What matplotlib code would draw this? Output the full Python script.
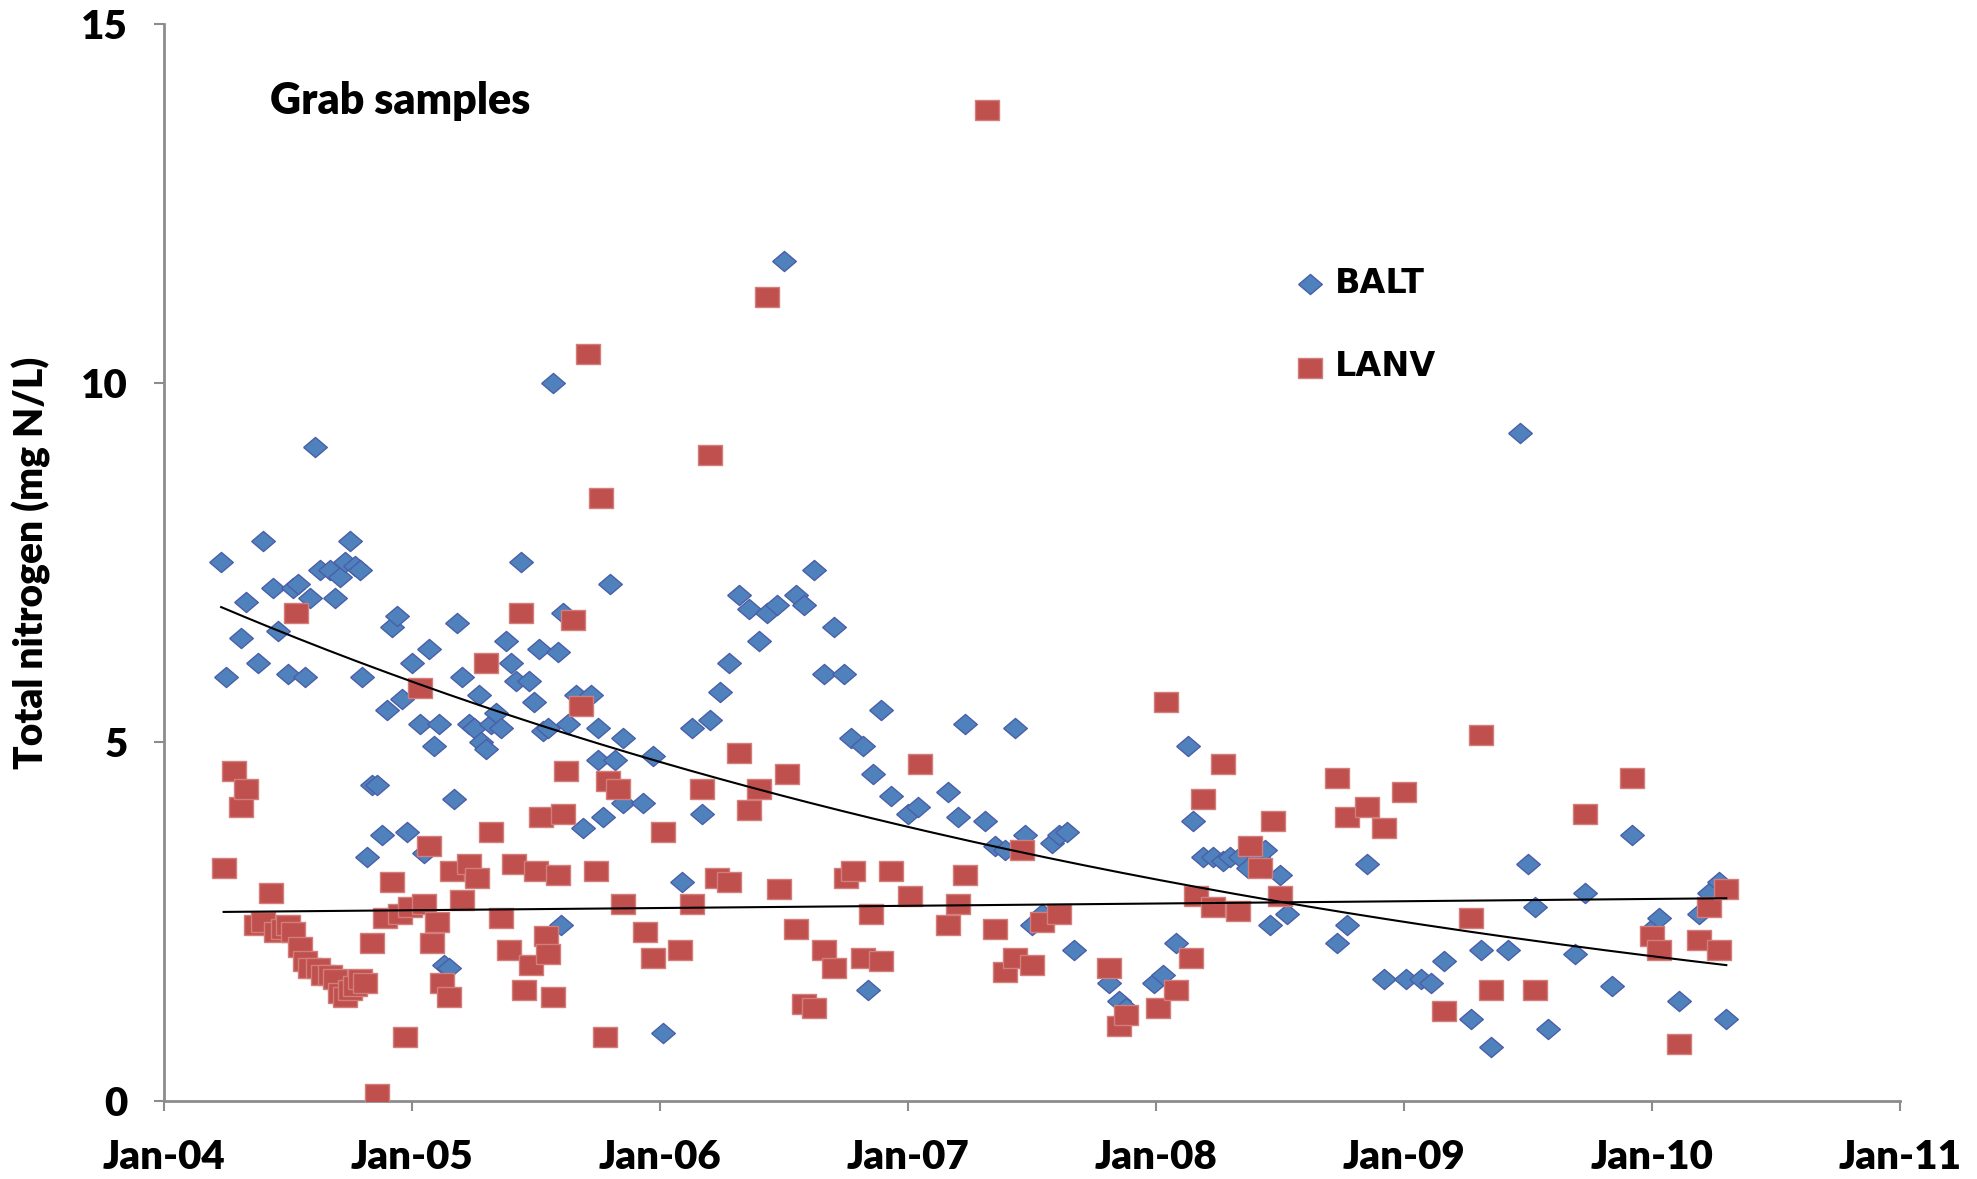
import numpy as np
import matplotlib
matplotlib.use("Agg")
import matplotlib.pyplot as plt

# sample dates as decimal years, total nitrogen in mg N/L
balt_year = [2004.23, 2004.25, 2004.31, 2004.33, 2004.38, 2004.40, 2004.44, 2004.46, 2004.50, 2004.52,
             2004.54, 2004.57, 2004.59, 2004.61, 2004.63, 2004.67, 2004.69, 2004.71, 2004.73, 2004.75,
             2004.77, 2004.79, 2004.80, 2004.82, 2004.84, 2004.86, 2004.88, 2004.90, 2004.92, 2004.94,
             2004.96, 2004.98, 2005.00, 2005.03, 2005.05, 2005.07, 2005.09, 2005.11, 2005.13, 2005.15,
             2005.17, 2005.18, 2005.20, 2005.23, 2005.25, 2005.27, 2005.28, 2005.30, 2005.32, 2005.34,
             2005.36, 2005.38, 2005.40, 2005.42, 2005.44, 2005.47, 2005.49, 2005.51, 2005.53, 2005.55,
             2005.57, 2005.59, 2005.60, 2005.61, 2005.63, 2005.66, 2005.69, 2005.72, 2005.75, 2005.75,
             2005.77, 2005.80, 2005.82, 2005.85, 2005.85, 2005.93, 2005.97, 2006.01, 2006.09, 2006.13,
             2006.17, 2006.20, 2006.24, 2006.28, 2006.32, 2006.36, 2006.40, 2006.43, 2006.47, 2006.50,
             2006.55, 2006.58, 2006.62, 2006.66, 2006.70, 2006.74, 2006.77, 2006.82, 2006.84, 2006.86,
             2006.89, 2006.93, 2007.00, 2007.04, 2007.16, 2007.20, 2007.23, 2007.31, 2007.35, 2007.39,
             2007.43, 2007.47, 2007.50, 2007.54, 2007.58, 2007.61, 2007.64, 2007.67, 2007.81, 2007.85,
             2007.88, 2007.99, 2008.03, 2008.08, 2008.13, 2008.15, 2008.19, 2008.23, 2008.27, 2008.30,
             2008.34, 2008.37, 2008.41, 2008.44, 2008.46, 2008.50, 2008.53, 2008.73, 2008.77, 2008.85,
             2008.92, 2009.01, 2009.07, 2009.11, 2009.16, 2009.27, 2009.31, 2009.35, 2009.42, 2009.47,
             2009.50, 2009.53, 2009.58, 2009.69, 2009.73, 2009.84, 2009.92, 2010.00, 2010.03, 2010.11,
             2010.19, 2010.23, 2010.27, 2010.30]
balt_tn = [7.5, 5.9, 6.45, 6.95, 6.1, 7.8, 7.15, 6.55, 5.95, 7.15,
           7.2, 5.9, 7.0, 9.1, 7.4, 7.4, 7.0, 7.3, 7.5, 7.8,
           7.45, 7.4, 5.9, 3.4, 4.4, 4.4, 3.7, 5.45, 6.6, 6.75,
           5.6, 3.75, 6.1, 5.25, 3.45, 6.3, 4.95, 5.25, 1.9, 1.85,
           4.2, 6.65, 5.9, 5.25, 5.2, 5.65, 5.0, 4.9, 5.25, 5.4,
           5.2, 6.4, 6.1, 5.85, 7.5, 5.85, 5.55, 6.3, 5.15, 5.2,
           10.0, 6.25, 2.45, 6.8, 5.25, 5.65, 3.8, 5.65, 5.2, 4.75,
           3.95, 7.2, 4.75, 5.05, 4.15, 4.15, 4.8, 0.95, 3.05, 5.2,
           4.0, 5.3, 5.7, 6.1, 7.05, 6.85, 6.4, 6.8, 6.9, 11.7,
           7.05, 6.9, 7.4, 5.95, 6.6, 5.95, 5.05, 4.95, 1.55, 4.55,
           5.45, 4.25, 4.0, 4.1, 4.3, 3.95, 5.25, 3.9, 3.55, 3.5,
           5.2, 3.7, 2.45, 2.6, 3.6, 3.7, 3.75, 2.1, 1.65, 1.4,
           1.3, 1.65, 1.75, 2.2, 4.95, 3.9, 3.4, 3.4, 3.35, 3.4,
           3.4, 3.25, 3.4, 3.5, 2.45, 3.15, 2.6, 2.2, 2.45, 3.3,
           1.7, 1.7, 1.7, 1.65, 1.95, 1.15, 2.1, 0.75, 2.1, 9.3,
           3.3, 2.7, 1.0, 2.05, 2.9, 1.6, 3.7, 2.4, 2.55, 1.4,
           2.6, 2.9, 3.05, 1.15]

lanv_year = [2004.24, 2004.28, 2004.31, 2004.33, 2004.37, 2004.40, 2004.43, 2004.45, 2004.48, 2004.50,
             2004.52, 2004.53, 2004.55, 2004.57, 2004.59, 2004.62, 2004.64, 2004.67, 2004.69, 2004.71,
             2004.73, 2004.75, 2004.77, 2004.79, 2004.81, 2004.84, 2004.86, 2004.89, 2004.92, 2004.95,
             2004.97, 2004.99, 2005.03, 2005.05, 2005.07, 2005.08, 2005.10, 2005.12, 2005.15, 2005.16,
             2005.20, 2005.23, 2005.26, 2005.30, 2005.32, 2005.36, 2005.39, 2005.41, 2005.44, 2005.45,
             2005.48, 2005.50, 2005.52, 2005.54, 2005.55, 2005.57, 2005.59, 2005.61, 2005.62, 2005.65,
             2005.68, 2005.71, 2005.74, 2005.76, 2005.78, 2005.79, 2005.83, 2005.85, 2005.94, 2005.97,
             2006.01, 2006.08, 2006.13, 2006.17, 2006.20, 2006.23, 2006.28, 2006.32, 2006.36, 2006.40,
             2006.43, 2006.48, 2006.51, 2006.55, 2006.58, 2006.62, 2006.66, 2006.70, 2006.75, 2006.78,
             2006.82, 2006.85, 2006.89, 2006.93, 2007.01, 2007.05, 2007.16, 2007.20, 2007.23, 2007.32,
             2007.35, 2007.39, 2007.43, 2007.46, 2007.50, 2007.54, 2007.61, 2007.81, 2007.85, 2007.88,
             2008.01, 2008.04, 2008.08, 2008.14, 2008.16, 2008.19, 2008.23, 2008.27, 2008.33, 2008.38,
             2008.42, 2008.47, 2008.50, 2008.73, 2008.77, 2008.85, 2008.92, 2009.00, 2009.16, 2009.27,
             2009.31, 2009.35, 2009.53, 2009.73, 2009.92, 2010.00, 2010.03, 2010.11, 2010.19, 2010.23,
             2010.27, 2010.30]
lanv_tn = [3.25, 4.6, 4.1, 4.35, 2.45, 2.5, 2.9, 2.35, 2.4, 2.45,
           2.35, 6.8, 2.15, 1.95, 1.85, 1.85, 1.75, 1.75, 1.7, 1.5,
           1.45, 1.55, 1.6, 1.7, 1.65, 2.2, 0.1, 2.55, 3.05, 2.6,
           0.9, 2.7, 5.75, 2.75, 3.55, 2.2, 2.5, 1.65, 1.45, 3.2,
           2.8, 3.3, 3.1, 6.1, 3.75, 2.55, 2.1, 3.3, 6.8, 1.55,
           1.9, 3.2, 3.95, 2.3, 2.05, 1.45, 3.15, 4.0, 4.6, 6.7,
           5.5, 10.4, 3.2, 8.4, 0.9, 4.45, 4.35, 2.75, 2.35, 2.0,
           3.75, 2.1, 2.75, 4.35, 9.0, 3.1, 3.05, 4.85, 4.05, 4.35,
           11.2, 2.95, 4.55, 2.4, 1.35, 1.3, 2.1, 1.85, 3.1, 3.2,
           2.0, 2.6, 1.95, 3.2, 2.85, 4.7, 2.45, 2.75, 3.15, 13.8,
           2.4, 1.8, 2.0, 3.5, 1.9, 2.5, 2.6, 1.85, 1.05, 1.2,
           1.3, 5.55, 1.55, 2.0, 2.85, 4.2, 2.7, 4.7, 2.65, 3.55,
           3.25, 3.9, 2.85, 4.5, 3.95, 4.1, 3.8, 4.3, 1.25, 2.55,
           5.1, 1.55, 1.55, 4.0, 4.5, 2.3, 2.1, 0.8, 2.25, 2.7,
           2.1, 2.95]

years = list(range(2004, 2012))
yticks = [0, 5, 10, 15]

bx = np.array(balt_year)
by = np.array(balt_tn)
lx = np.array(lanv_year)
ly = np.array(lanv_tn)

fig = plt.figure(figsize=(19.77, 11.79), dpi=100)
ax = fig.add_axes([0.083, 0.066, 0.878, 0.914])

diamond = [(-1, 0), (0, 0.85), (1, 0), (0, -0.85), (-1, 0)]
square = [(-1, -0.85), (1, -0.85), (1, 0.85), (-1, 0.85), (-1, -0.85)]

ax.scatter(bx, by, marker=diamond, s=290, color='#4F81BD', edgecolor='#4A5FA8',
           linewidth=1.0, label='BALT', zorder=3)
ax.scatter(lx, ly, marker=square, s=290, color='#C0504D', edgecolor='#D47E7B',
           linewidth=1.0, label='LANV', zorder=4)

# exponential trendlines (Excel style: straight-line fit on ln y)
def expo_trend(x, y):
    b, a = np.polyfit(x - 2004, np.log(y), 1)
    tx = np.linspace(x.min(), x.max(), 200)
    return tx, np.exp(a + b * (tx - 2004))

tx, ty = expo_trend(bx, by)
ax.plot(tx, ty, color='black', lw=1.5, zorder=5)
tx2, ty2 = expo_trend(lx, ly)
ax.plot(tx2, ty2, color='black', lw=1.5, zorder=5)

ax.set_xlim(2004, 2011)
ax.set_ylim(0, 15)
ax.set_xticks(years)
ax.set_xticklabels([f"Jan-{y % 100:02d}" for y in years])
ax.set_yticks(yticks)

for side in ['top', 'right']:
    ax.spines[side].set_visible(False)
for side in ['left', 'bottom']:
    ax.spines[side].set_color('#8C8C8C')
    ax.spines[side].set_linewidth(2)

ax.tick_params(axis='both', direction='out', color='#8C8C8C', width=1.5, length=7)
ax.tick_params(axis='x', pad=20)
ax.tick_params(axis='y', pad=19)
for lab in ax.get_xticklabels() + ax.get_yticklabels():
    lab.set_fontfamily('Lato')
    lab.set_fontweight('heavy')
    lab.set_fontsize(29)

ax.set_ylabel('Total nitrogen (mg N/L)', fontfamily='Lato', fontweight='heavy', fontsize=28)
ax.yaxis.set_label_coords(-0.065, 0.5)

ax.text(0.061, 0.928, 'Grab samples', transform=ax.transAxes, fontfamily='Lato',
        fontweight='heavy', fontsize=31, va='center', ha='left')

ax.legend(loc='upper left', bbox_to_anchor=(0.6523, 0.774), frameon=False, borderpad=0,
          borderaxespad=0, handlelength=0.8, handletextpad=0.36, labelspacing=1.51,
          prop={'family': 'DejaVu Sans', 'weight': 'bold', 'size': 24})

fig.savefig('out.png', dpi=100)
